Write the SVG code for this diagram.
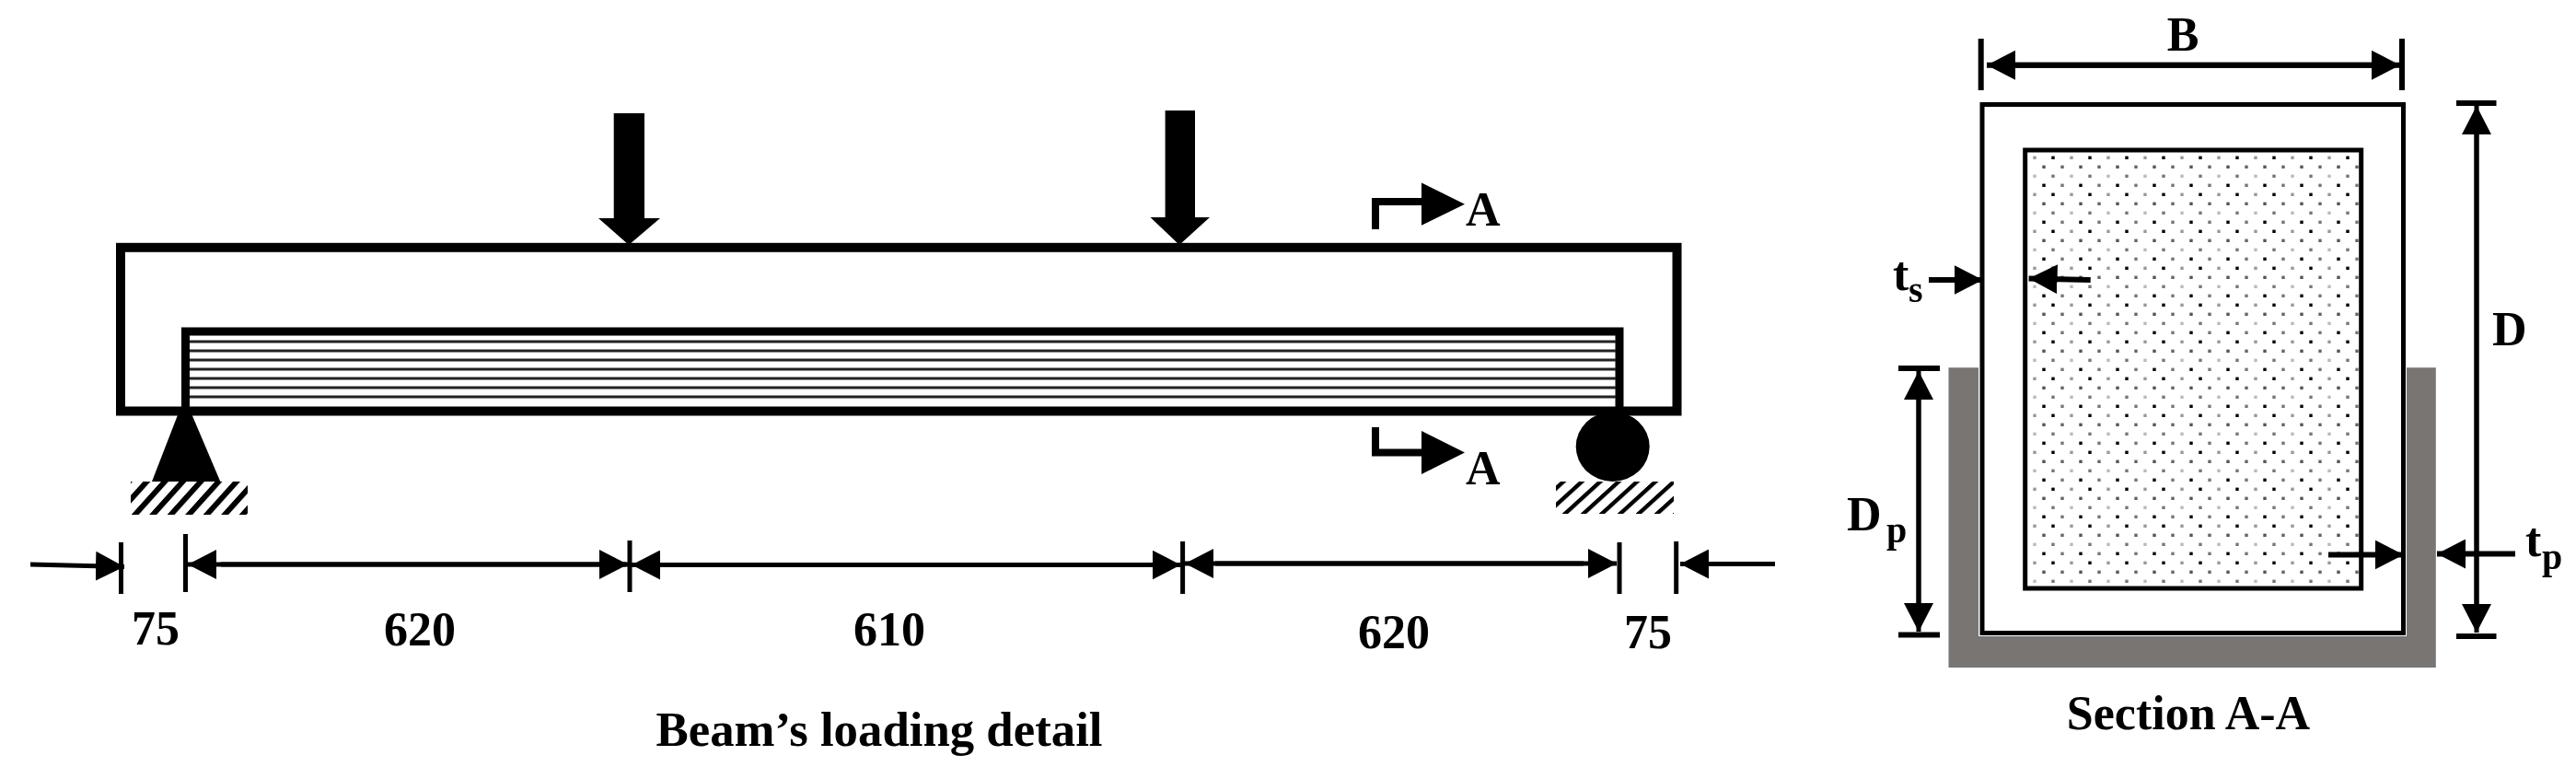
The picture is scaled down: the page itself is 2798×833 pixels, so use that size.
<svg xmlns="http://www.w3.org/2000/svg" width="2798" height="833" viewBox="0 0 2798 833">
<style>
text{font-family:"Liberation Serif","Times New Roman",serif;font-weight:bold;fill:#000;font-size:52px}
.sub{font-size:40px}
.blk{fill:#000}
.dim{stroke:#000;stroke-width:5;fill:none;marker-end:url(#ah)}
.tk{stroke:#000;stroke-width:5;fill:none}
.out{fill:none;stroke:#000;stroke-width:5}
</style>
<defs>
<marker id="ah" viewBox="0 0 31 32" refX="31" refY="16" markerWidth="31" markerHeight="32" markerUnits="userSpaceOnUse" orient="auto"><polygon points="0,0 31,16 0,32" fill="#000"/></marker>
<pattern id="hatch" patternUnits="userSpaceOnUse" width="19.500" height="36" patternTransform="translate(175 523) skewX(-42)"><rect x="0" y="0" width="8" height="36" fill="#000"/></pattern>
<pattern id="hatch2" patternUnits="userSpaceOnUse" width="20" height="35" patternTransform="translate(1735 523) skewX(-47.700)"><rect x="0" y="0" width="6.500" height="35" fill="#000"/></pattern>
<pattern id="dots" patternUnits="userSpaceOnUse" width="40" height="40" x="2205" y="166">
<rect x="3.300" y="3.600" width="3.400" height="3.400" fill="#999"/><rect x="23.300" y="3.600" width="3.400" height="3.400" fill="#000"/>
<rect x="13.300" y="13.600" width="3.400" height="3.400" fill="#555"/><rect x="33.300" y="13.600" width="3.400" height="3.400" fill="#666"/>
<rect x="3.300" y="23.600" width="3.400" height="3.400" fill="#bbb"/><rect x="23.300" y="23.600" width="3.400" height="3.400" fill="#777"/>
<rect x="13.300" y="33.600" width="3.400" height="3.400" fill="#000"/><rect x="33.300" y="33.600" width="3.400" height="3.400" fill="#777"/>
</pattern>
<filter id="soft" x="0" y="0" width="1" height="1"><feGaussianBlur stdDeviation="0.6"/></filter>
</defs>
<rect width="2798" height="833" fill="#fff"/>
<g filter="url(#soft)">
<g id="beam">
<rect x="131" y="268.800" width="1690.500" height="177.700" fill="#fff" stroke="#000" stroke-width="10"/>
</g>
<g id="frp-plate">
<rect x="201.500" y="360" width="1557.500" height="86" fill="#fff" stroke="#000" stroke-width="9"/>
<path d="M206 371H1755M206 381H1755M206 391H1755M206 401H1755M206 411H1755M206 421H1755M206 431H1755" stroke="#222" stroke-width="3" fill="none"/>
</g>
<g id="load-1"><polygon points="666.700,123 700,123 700,237 717,237 683,266 650,237 666.700,237" class="blk"/></g>
<g id="load-2"><polygon points="1265.600,120 1298,120 1298,236 1314,236 1281,266 1249.500,236 1265.600,236" class="blk"/></g>
<g id="pin-support">
<polygon points="193.300,450 208.300,450 239.300,523 165,523" class="blk"/>
<rect x="142" y="523" width="127" height="36" fill="url(#hatch)"/>
</g>
<g id="roller-support">
<ellipse cx="1751.700" cy="485" rx="40" ry="38" class="blk"/>
<rect x="1690" y="523" width="128" height="35" fill="url(#hatch2)"/>
</g>
<g id="section-mark-top">
<path d="M1494 249V219H1546" fill="none" stroke="#000" stroke-width="8"/>
<polygon points="1544,198.600 1591,221.700 1544,244.700" class="blk"/>
<text x="1592" y="245">A</text>
</g>
<g id="section-mark-bottom">
<path d="M1494 464V491.600H1546" fill="none" stroke="#000" stroke-width="8"/>
<polygon points="1544,468 1591,491.600 1544,515" class="blk"/>
<text x="1592" y="525.500">A</text>
</g>
<g id="section">
<path d="M2116.500 399.300H2149V691H2614V399.300H2645.800V725H2116.500Z" fill="#787473"/>
<rect id="steel-tube" x="2153" y="113.500" width="457.500" height="574" fill="#fff" class="out"/>
<rect id="concrete-core" x="2199.700" y="163" width="365" height="476" fill="url(#dots)" stroke="#000" stroke-width="5"/>
</g>
<g id="connectors">
<g id="beam-dims">
<path d="M131.500 589V645M201.500 580V643M684 587V643M1284.600 588V645M1759 589V645M1820.700 588V645" class="tk"/>
<path d="M33 613L135 615.500" class="dim"/>
<path d="M680 613H204" class="dim"/>
<path d="M240 613H682" class="dim"/>
<path d="M1280 613.500H686" class="dim"/>
<path d="M720 613.500H1282.500" class="dim"/>
<path d="M1720 612H1287" class="dim"/>
<path d="M1320 612H1756" class="dim"/>
<path d="M1928 612.500H1825" class="dim"/>
</g>
<g id="section-dims">
<path d="M2151.700 42V98M2609 42V98M2668 112H2711.500M2668 691H2711.500M2062 400H2107M2062 689.500H2107" class="tk" style="stroke-width:6"/>
<path d="M2600 70.700H2158" class="dim" style="stroke-width:6"/>
<path d="M2170 70.700H2607" class="dim" style="stroke-width:6"/>
<path d="M2690 660V115" class="dim"/>
<path d="M2690 140V687" class="dim"/>
<path d="M2084 660V403" class="dim"/>
<path d="M2084 430V686" class="dim"/>
<path d="M2095 304H2153.700" class="dim" style="stroke-width:6"/>
<path d="M2270.700 304L2203.600 302.500" class="dim" style="stroke-width:6"/>
<path d="M2529 602.500H2610.700" class="dim" style="stroke-width:6"/>
<path d="M2732 601.500H2647" class="dim" style="stroke-width:6"/>
</g>
</g>
<g id="labels">
<text x="169" y="700" text-anchor="middle">75</text>
<text x="456" y="700.500" text-anchor="middle">620</text>
<text x="966" y="701" text-anchor="middle">610</text>
<text x="1514" y="704" text-anchor="middle">620</text>
<text x="1790" y="703.500" text-anchor="middle">75</text>
<text x="955" y="810" text-anchor="middle" style="font-size:52.800px">Beam’s loading detail</text>
<text x="2371" y="55" text-anchor="middle">B</text>
<text x="2707" y="375">D</text>
<text x="2056" y="315">t</text><text x="2073" y="328" class="sub">s</text>
<text x="2006" y="576">D</text><text x="2049" y="589" class="sub">p</text>
<text x="2743" y="604">t</text><text x="2761" y="618" class="sub">p</text>
<text x="2377" y="792" text-anchor="middle">Section A-A</text>
</g>
</g>
</svg>
